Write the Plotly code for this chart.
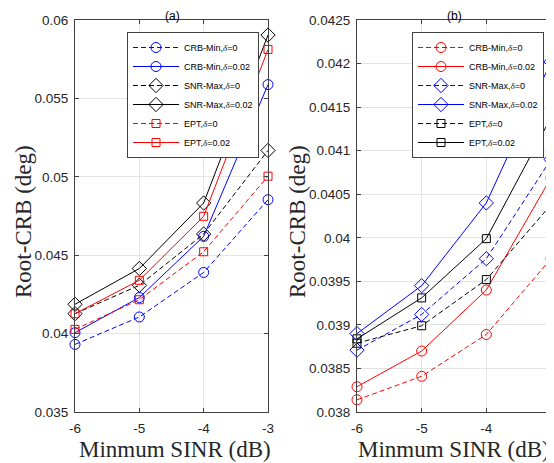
import plotly.graph_objects as go

# ---------------- data ----------------
sinr = [-6, -5, -4, -3]

# panel (a)
a_crb_d0   = [0.03931, 0.04106, 0.04390, 0.04854]
a_crb_d02  = [0.04006, 0.04230, 0.04620, 0.05588]
a_snr_d0   = [0.04127, 0.04308, 0.04635, 0.05168]
a_snr_d02  = [0.04187, 0.04415, 0.04833, 0.05904]
a_ept_d0   = [0.04027, 0.04216, 0.04522, 0.05004]
a_ept_d02  = [0.04127, 0.04340, 0.04748, 0.05812]

# panel (b)
b_crb_d0   = [0.03814, 0.03841, 0.03889, 0.03976]
b_crb_d02  = [0.03829, 0.03870, 0.03940, 0.04069]
b_snr_d0   = [0.03871, 0.03912, 0.03976, 0.04090]
b_snr_d02  = [0.03890, 0.03945, 0.04040, 0.04202]
b_ept_d0   = [0.03879, 0.03899, 0.03952, 0.04038]
b_ept_d02  = [0.03884, 0.03931, 0.03999, 0.04138]

x_ticks = [-6, -5, -4, -3]
x_ticktext = ["-6", "-5", "-4", "-3"]
a_yticks = [0.035, 0.04, 0.045, 0.05, 0.055, 0.06]
a_yticktext = ["0.035", "0.04", "0.045", "0.05", "0.055", "0.06"]
b_yticks = [0.038, 0.0385, 0.039, 0.0395, 0.04, 0.0405, 0.041, 0.0415, 0.042, 0.0425]
b_yticktext = ["0.038", "0.0385", "0.039", "0.0395", "0.04", "0.0405",
               "0.041", "0.0415", "0.042", "0.0425"]

# ---------------- styling ----------------
# The page body has an 8px default margin, so the figure is drawn 8px smaller
# and all window-pixel positions are shifted by that offset.
OFF = 8
W, H = 554 - OFF, 463 - OFF
SANS = "Liberation Sans, Arial, sans-serif"
SERIF = "Liberation Serif, Times New Roman, serif"
AXC = "#404040"
GRID = "#e4e4e4"
DASH = "5px,3px"
BLUE, RED, BLACK = "#0000ff", "#ff0000", "#000000"

def dl(name):
    return name + ',<span style="font-family:Liberation Serif"><i>δ</i></span>'

def trace(y, name, color, dash, symbol, size, xa, ya, legend):
    return go.Scatter(
        x=sinr, y=y, name=name, mode="lines+markers",
        line=dict(color=color, width=1, dash=dash),
        marker=dict(symbol=symbol, size=size, color=color,
                    line=dict(color=color, width=1)),
        xaxis=xa, yaxis=ya, legend=legend, cliponaxis=False,
    )

fig = go.Figure()
# panel (a)
fig.add_trace(trace(a_crb_d0,  dl("CRB-Min") + "=0",    BLUE,  DASH,    "circle-open",  10, "x", "y", "legend"))
fig.add_trace(trace(a_crb_d02, dl("CRB-Min") + "=0.02", BLUE,  "solid", "circle-open",  10, "x", "y", "legend"))
fig.add_trace(trace(a_snr_d0,  dl("SNR-Max") + "=0",    BLACK, DASH,    "diamond-open", 11, "x", "y", "legend"))
fig.add_trace(trace(a_snr_d02, dl("SNR-Max") + "=0.02", BLACK, "solid", "diamond-open", 11, "x", "y", "legend"))
fig.add_trace(trace(a_ept_d0,  dl("EPT") + "=0",        RED,   DASH,    "square-open",   8, "x", "y", "legend"))
fig.add_trace(trace(a_ept_d02, dl("EPT") + "=0.02",     RED,   "solid", "square-open",   8, "x", "y", "legend"))
# panel (b)
fig.add_trace(trace(b_crb_d0,  dl("CRB-Min") + "=0",    RED,   DASH,    "circle-open",  10, "x2", "y2", "legend2"))
fig.add_trace(trace(b_crb_d02, dl("CRB-Min") + "=0.02", RED,   "solid", "circle-open",  10, "x2", "y2", "legend2"))
fig.add_trace(trace(b_snr_d0,  dl("SNR-Max") + "=0",    BLUE,  DASH,    "diamond-open", 11, "x2", "y2", "legend2"))
fig.add_trace(trace(b_snr_d02, dl("SNR-Max") + "=0.02", BLUE,  "solid", "diamond-open", 11, "x2", "y2", "legend2"))
fig.add_trace(trace(b_ept_d0,  dl("EPT") + "=0",        BLACK, DASH,    "square-open",   8, "x2", "y2", "legend2"))
fig.add_trace(trace(b_ept_d02, dl("EPT") + "=0.02",     BLACK, "solid", "square-open",   8, "x2", "y2", "legend2"))

def px_x(p):
    return (p - OFF) / W

def px_y(p):
    return 1 - (p - OFF) / H

ydom = [px_y(412), px_y(20)]

common_axis = dict(
    showline=True, linecolor=AXC, linewidth=1, mirror="ticks",
    ticks="inside", ticklen=4, tickwidth=1, tickcolor=AXC,
    showgrid=True, gridcolor=GRID, gridwidth=1, zeroline=False,
    automargin=False,
    tickfont=dict(family=SANS, size=13.5, color="#262626"),
)

legend_common = dict(
    xanchor="left", yanchor="top",
    bgcolor="white", bordercolor=AXC, borderwidth=1,
    font=dict(family=SANS, size=9, color="#000000"),
    itemwidth=46, tracegroupgap=0,
)

fig.update_layout(
    width=W, height=H,
    margin=dict(l=0, r=0, t=0, b=0, pad=0, autoexpand=False),
    paper_bgcolor="white", plot_bgcolor="white",
    xaxis=dict(domain=[px_x(75), px_x(268)], range=[-6, -3], anchor="y",
               tickvals=x_ticks, ticktext=x_ticktext, ticklabelstandoff=4, **common_axis),
    yaxis=dict(domain=ydom, range=[0.035, 0.06], anchor="x",
               tickvals=a_yticks, ticktext=a_yticktext, ticklabelstandoff=3, **common_axis),
    xaxis2=dict(domain=[px_x(357), px_x(551)], range=[-6, -3], anchor="y2",
                tickvals=x_ticks, ticktext=x_ticktext, ticklabelstandoff=4, **common_axis),
    yaxis2=dict(domain=ydom, range=[0.038, 0.0425], anchor="x2",
                tickvals=b_yticks, ticktext=b_yticktext, ticklabelstandoff=3, **common_axis),
    legend=dict(x=px_x(127), y=px_y(32), **legend_common),
    legend2=dict(x=px_x(412), y=px_y(32), **legend_common),
    showlegend=True,
)

# panel titles: anchored at the top edge of the drawable area
for label, xc in (("(a)", 172), ("(b)", 454)):
    fig.add_annotation(xref="paper", yref="paper", x=px_x(xc), y=1.0,
                       xanchor="center", yanchor="top", borderpad=0,
                       showarrow=False, text=label,
                       font=dict(family=SANS, size=12, color="#000"))

annos = [
    dict(text="Minmum SINR (dB)", x=px_x(175), y=px_y(449), font=dict(family=SERIF, size=23, color="#262626")),
    dict(text="Minmum SINR (dB)", x=px_x(454), y=px_y(449), font=dict(family=SERIF, size=23, color="#262626")),
    dict(text="Root-CRB (deg)", x=px_x(23), y=px_y(222), textangle=-90, font=dict(family=SERIF, size=23, color="#262626")),
    dict(text="Root-CRB (deg)", x=px_x(297), y=px_y(222), textangle=-90, font=dict(family=SERIF, size=23, color="#262626")),
]
for a in annos:
    fig.add_annotation(xref="paper", yref="paper", xanchor="center", yanchor="middle",
                       showarrow=False, **a)

fig.write_html("out.html")
